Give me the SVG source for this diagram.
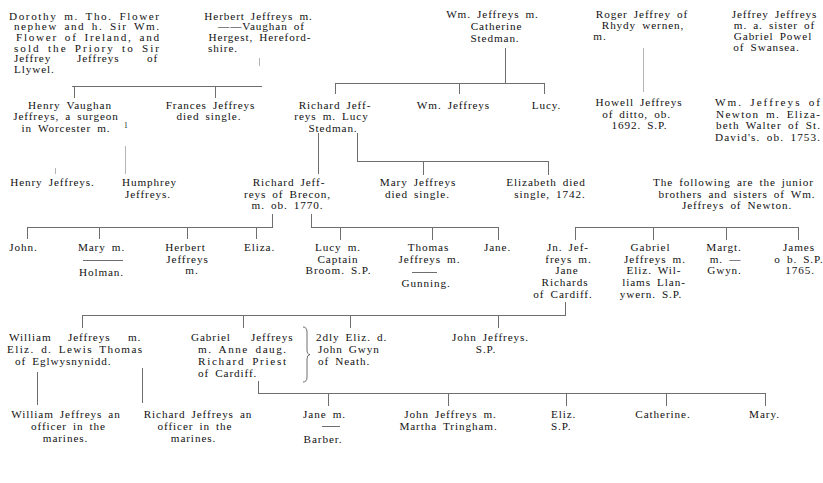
<svg xmlns="http://www.w3.org/2000/svg" width="823" height="483" viewBox="0 0 823 483">
<style>
text{font-family:"Liberation Serif","Times New Roman",serif;font-size:11.2px;fill:#111;letter-spacing:0.9px;word-spacing:2.4px;text-anchor:middle}
text.s{text-anchor:start}
.sup{font-size:7.5px;text-anchor:start}
.c{stroke:#6e6e6e;stroke-width:1;fill:none}
.f{stroke:#b4b4b4;stroke-width:1;fill:none}
</style>
<rect width="823" height="483" fill="#fff"/>
<g id="connectors">
<path class="f" d="M259.5 58V66"/>
<path class="c" d="M72 86.5H262M74.5 86V98M215.5 86V98"/>
<path class="c" d="M505.5 48V83.5M335 83.5H545M335.5 83V94M459.5 83V94M544.5 83V94"/>
<path class="f" d="M643.5 48V92"/>
<path class="f" d="M125.5 146V174M55.5 168V174"/>
<path class="c" d="M318.5 133V174M357.5 133V161.5M357 161.5H549M423.5 161V175M548.5 161V175"/>
<path class="c" d="M272.5 214V227.5M27 227.5H273M27.5 227V239M99.5 227V239M187.5 227V239M256.5 227V239"/>
<path class="c" d="M311.5 214V227.5M311 227.5H499M340.5 227V240M432.5 227V240M498.5 227V240"/>
<path class="c" d="M575 227.5H799M575.5 227V240M653.5 227V240M726.5 227V240M798.5 227V240"/>
<path class="c" d="M565.5 302V315.5M82 315.5H566M82.5 315V328M243.5 315V328M350.5 315V328M498.5 315V328"/>
<path class="c" d="M37.5 372V405M142.5 368V403"/>
<path class="c" d="M258.5 381V393.5M258 393.5H766M328.5 393V406M448.5 393V406M566.5 393V406M666.5 393V406M765.5 393V406"/>
</g>
<g id="dorothy">
<text class="s"><tspan x="9" y="19.5" textLength="151">Dorothy m. Tho. Flower</tspan><tspan x="14" y="30.2" textLength="146">nephew and h. Sir Wm.</tspan><tspan x="16" y="40.9" textLength="144">Flower of Ireland, and</tspan><tspan x="14" y="51.6" textLength="146">sold the Priory to Sir</tspan><tspan x="14" y="62.3">Jeffrey</tspan><tspan x="77" y="62.3">Jeffreys</tspan><tspan x="147" y="62.3">of</tspan><tspan x="14" y="73">Llywel.</tspan></text>
</g>
<g id="herbert">
<text><tspan x="258.5" y="19.5">Herbert Jeffreys m.</tspan><tspan x="261.5" y="30.2">——Vaughan of</tspan><tspan x="260" y="40.9">Hergest, Hereford-</tspan><tspan x="223" y="51.6">shire.</tspan></text>
</g>
<g id="wm-catherine">
<text><tspan x="492.5" y="18">Wm. Jeffreys m.</tspan><tspan x="496.5" y="30">Catherine</tspan><tspan x="495" y="42">Stedman.</tspan></text>
</g>
<g id="roger">
<text><tspan x="642" y="18">Roger Jeffrey of</tspan><tspan x="643" y="29">Rhydy wernen,</tspan><tspan x="600" y="40">m.</tspan></text>
</g>
<g id="jeffrey">
<text><tspan x="774.5" y="18">Jeffrey Jeffreys</tspan><tspan x="774.5" y="29">m. a. sister of</tspan><tspan x="773" y="40">Gabriel Powel</tspan><tspan x="766.5" y="51">of Swansea.</tspan></text>
</g>
<g id="henry-vaughan">
<text><tspan x="70" y="108.5">Henry Vaughan</tspan><tspan x="66" y="120">Jeffreys, a surgeon</tspan><tspan x="66" y="131.5">in Worcester m.</tspan></text>
<text class="sup" x="124" y="128">1</text>
</g>
<g id="frances">
<text><tspan x="210.5" y="108.5">Frances Jeffreys</tspan><tspan x="209" y="120">died single.</tspan></text>
</g>
<g id="richard-lucy">
<text><tspan x="335" y="108.5">Richard Jeff-</tspan><tspan x="331.5" y="120">reys m. Lucy</tspan><tspan x="333" y="131.5">Stedman.</tspan></text>
</g>
<g id="wm-jeffreys">
<text x="453.5" y="108.5">Wm. Jeffreys</text>
</g>
<g id="lucy">
<text x="546.5" y="108.5">Lucy.</text>
</g>
<g id="howell">
<text><tspan x="639" y="106">Howell Jeffreys</tspan><tspan x="636.5" y="117.5">of ditto, ob.</tspan><tspan x="639.5" y="129">1692. S.P.</tspan></text>
</g>
<g id="wm-newton">
<text class="s"><tspan x="715" y="106" textLength="106">Wm. Jeffreys of</tspan><tspan x="716" y="117.5" textLength="105">Newton m. Eliza-</tspan><tspan x="716" y="129" textLength="105">beth Walter of St.</tspan><tspan x="715" y="140.5" textLength="106">David's. ob. 1753.</tspan></text>
</g>
<g id="henry-jeffreys">
<text x="52.5" y="186">Henry Jeffreys.</text>
</g>
<g id="humphrey">
<text><tspan x="149.5" y="186">Humphrey</tspan><tspan x="148" y="197.5">Jeffreys.</tspan></text>
</g>
<g id="richard-brecon">
<text><tspan x="289" y="186">Richard Jeff-</tspan><tspan x="287.5" y="197.5">reys of Brecon,</tspan><tspan x="287.5" y="209">m. ob. 1770.</tspan></text>
</g>
<g id="mary-jeffreys">
<text><tspan x="418" y="186">Mary Jeffreys</tspan><tspan x="417.5" y="197.5">died single.</tspan></text>
</g>
<g id="elizabeth">
<text><tspan x="546" y="186">Elizabeth died</tspan><tspan x="550" y="197.5">single, 1742.</tspan></text>
</g>
<g id="note">
<text><tspan x="733.5" y="186">The following are the junior</tspan><tspan x="737" y="197.5">brothers and sisters of Wm.</tspan><tspan x="737" y="209">Jeffreys of Newton.</tspan></text>
</g>
<g id="john">
<text x="23.5" y="251">John.</text>
</g>
<g id="mary-holman">
<text><tspan x="101.5" y="251">Mary m.</tspan><tspan x="101.5" y="276">Holman.</tspan></text>
<path class="c" d="M83 260.5H123"/>
</g>
<g id="herbert-jeffreys">
<text><tspan x="185.5" y="251">Herbert</tspan><tspan x="187.5" y="262.5">Jeffreys</tspan><tspan x="192" y="274">m.</tspan></text>
</g>
<g id="eliza">
<text x="259.5" y="251">Eliza.</text>
</g>
<g id="lucy-broom">
<text><tspan x="338" y="251">Lucy m.</tspan><tspan x="338" y="262.5">Captain</tspan><tspan x="338.5" y="274">Broom. S.P.</tspan></text>
</g>
<g id="thomas">
<text><tspan x="428.5" y="251">Thomas</tspan><tspan x="429.5" y="262.5">Jeffreys m.</tspan><tspan x="426" y="287">Gunning.</tspan></text>
<path class="c" d="M412 272.5H437"/>
</g>
<g id="jane">
<text x="497.5" y="251">Jane.</text>
</g>
<g id="jn-jeffreys">
<text><tspan x="568" y="251">Jn. Jef-</tspan><tspan x="568.5" y="262.5">freys m.</tspan><tspan x="567" y="274">Jane</tspan><tspan x="565" y="286">Richards</tspan><tspan x="563" y="298">of Cardiff.</tspan></text>
</g>
<g id="gabriel-williams">
<text><tspan x="650.5" y="251">Gabriel</tspan><tspan x="655" y="262.5">Jeffreys m.</tspan><tspan x="654" y="274">Eliz. Wil-</tspan><tspan x="654" y="286">liams Llan-</tspan><tspan x="651" y="298">ywern. S.P.</tspan></text>
</g>
<g id="margt">
<text><tspan x="724" y="251">Margt.</tspan><tspan x="725.5" y="262.5">m. —</tspan><tspan x="724.5" y="274">Gwyn.</tspan></text>
</g>
<g id="james">
<text><tspan x="799" y="251">James</tspan><tspan x="799" y="262.5">o b. S.P.</tspan><tspan x="800" y="274">1765.</tspan></text>
</g>
<g id="william-eliz">
<text class="s"><tspan x="9" y="341">William</tspan><tspan x="68" y="341">Jeffreys</tspan><tspan x="128" y="341">m.</tspan><tspan x="7" y="353" textLength="136">Eliz. d. Lewis Thomas</tspan><tspan x="15" y="365">of Eglwysnynidd.</tspan></text>
</g>
<g id="gabriel-anne">
<text class="s"><tspan x="191" y="341">Gabriel</tspan><tspan x="251" y="341">Jeffreys</tspan><tspan x="198" y="353" textLength="89">m. Anne daug.</tspan><tspan x="198" y="365" textLength="89">Richard Priest</tspan><tspan x="198" y="377">of Cardiff.</tspan></text>
<path class="c" d="M303 327Q307 327 307 332V350Q307 354.5 310 354.5Q307 355 307 359V377Q307 382 303 382"/>
</g>
<g id="eliz-gwyn">
<text class="s"><tspan x="316" y="341">2dly Eliz. d.</tspan><tspan x="318" y="353">John Gwyn</tspan><tspan x="318" y="365">of Neath.</tspan></text>
</g>
<g id="john-sp">
<text><tspan x="490.5" y="341">John Jeffreys.</tspan><tspan x="486" y="353">S.P.</tspan></text>
</g>
<g id="william-officer">
<text><tspan x="66" y="418">William Jeffreys an</tspan><tspan x="68.5" y="430">officer in the</tspan><tspan x="65.5" y="442">marines.</tspan></text>
</g>
<g id="richard-officer">
<text><tspan x="198" y="418">Richard Jeffreys an</tspan><tspan x="195" y="430">officer in the</tspan><tspan x="193.5" y="442">marines.</tspan></text>
</g>
<g id="jane-barber">
<text><tspan x="324.5" y="418">Jane m.</tspan><tspan x="323" y="443">Barber.</tspan></text>
<path class="c" d="M322 426.5H340"/>
</g>
<g id="john-martha">
<text><tspan x="450.5" y="418">John Jeffreys m.</tspan><tspan x="448.5" y="430">Martha Tringham.</tspan></text>
</g>
<g id="eliz-sp">
<text class="s"><tspan x="551" y="418">Eliz.</tspan><tspan x="551" y="430">S.P.</tspan></text>
</g>
<g id="catherine">
<text x="663" y="418">Catherine.</text>
</g>
<g id="mary">
<text x="764.5" y="418">Mary.</text>
</g>
</svg>
